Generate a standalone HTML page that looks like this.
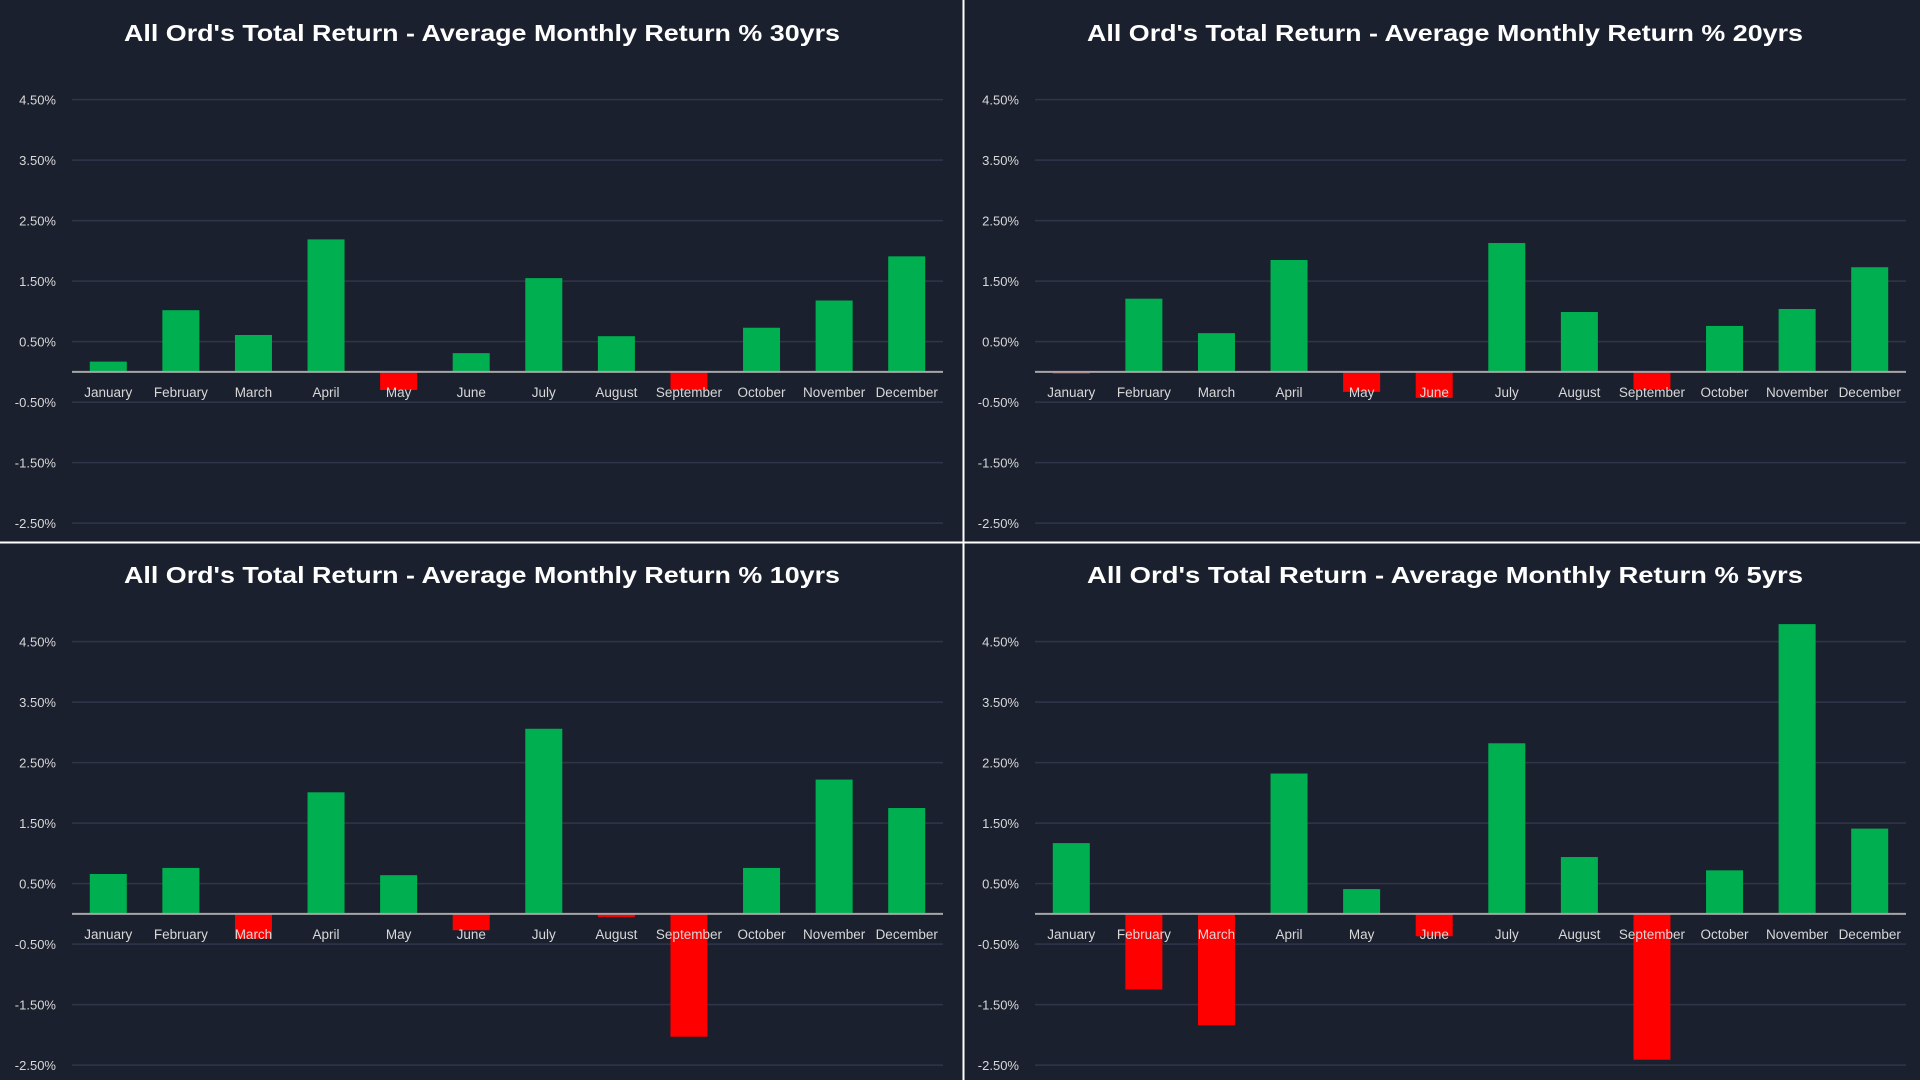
<!DOCTYPE html>
<html><head><meta charset="utf-8"><style>
html,body{margin:0;padding:0;background:#1b202e;}
svg{display:block;font-family:"Liberation Sans",sans-serif;}
</style></head><body>
<svg id="c" width="1920" height="1080" viewBox="0 0 1920 1080"></svg>
<script>
const months = ["January","February","March","April","May","June","July","August","September","October","November","December"];
const tickValues = [4.5,3.5,2.5,1.5,0.5,-0.5,-1.5,-2.5];
const tickLabels = ["4.50%","3.50%","2.50%","1.50%","0.50%","-0.50%","-1.50%","-2.50%"];
const periods = ["30yrs","20yrs","10yrs","5yrs"];
const values30 = [0.17,1.02,0.61,2.19,-0.30,0.31,1.55,0.59,-0.30,0.73,1.18,1.91];
const values20 = [-0.03,1.21,0.64,1.85,-0.33,-0.43,2.13,0.99,-0.29,0.76,1.04,1.73];
const values10 = [0.66,0.76,-0.41,2.01,0.64,-0.27,3.06,-0.05,-2.03,0.76,2.22,1.75];
const values5 = [1.17,-1.25,-1.84,2.32,0.41,-0.37,2.82,0.94,-2.41,0.72,4.79,1.41];
const seriesList = [values30, values20, values10, values5];

const NS = "http://www.w3.org/2000/svg";
const svg = document.getElementById('c');
function mk(tag, attrs, parent){
  const e = document.createElementNS(NS, tag);
  for (const k in attrs) e.setAttribute(k, attrs[k]);
  parent.appendChild(e);
  return e;
}
const offsets = [[0,0],[963,0],[0,542],[963,542]];
seriesList.forEach((vals, p) => {
  const [ox, oy] = offsets[p];
  const g = mk('g', {transform:`translate(${ox},${oy})`}, svg);
  
  
  const x0 = 72, x1 = 943;
  const zeroY = 371.9, unit = 60.5;
  const yScale = v => zeroY - v * unit;
  const band = (x1 - x0) / months.length;
  const xScale = i => x0 + band * (i + 0.5);
  const t = mk('text', {x:482, y:41, 'text-anchor':'middle', fill:'#ffffff', 'font-size':23, 'font-weight':'bold', textLength:716, lengthAdjust:'spacingAndGlyphs'}, g);
  t.textContent = "All Ord's Total Return - Average Monthly Return % " + periods[p];
  
  
  tickValues.forEach((v, i) => {
    const y = yScale(v);
    const l = mk('line', {x1:x0, x2:x1, y1:y, y2:y, stroke:'#30364a', 'stroke-width':1.5}, g);
    
    
    const tl = mk('text', {x:56, y:y+5, 'text-anchor':'end', fill:'#d8d8d8', 'font-size':13}, g);
    tl.textContent = tickLabels[i];
    
    
  });
  const bw = 37;
  vals.forEach((v, i) => {
    const yv = yScale(v);
    const r = mk('rect', {x:xScale(i)-bw/2, y:Math.min(yv, zeroY), width:bw, height:Math.max(Math.abs(yv-zeroY),1), fill: v>=0 ? '#00b050' : '#ff0000'}, g);
    
    
  });
  const ax = mk('line', {x1:x0, x2:x1, y1:zeroY, y2:zeroY, stroke:'#a6a6a6', 'stroke-width':2}, g);
  
  
  months.forEach((m, i) => {
    const ml = mk('text', {x:xScale(i), y:397, 'text-anchor':'middle', fill:'#d8d8d8', 'font-size':13.5}, g);
    ml.textContent = m;
    
    
  });
});
const v = mk('line', {x1:963.5, x2:963.5, y1:0, y2:1080, stroke:'#ffffff', 'stroke-width':2}, svg);


const h = mk('line', {x1:0, x2:1920, y1:542.5, y2:542.5, stroke:'#ffffff', 'stroke-width':2}, svg);


</script>
</body></html>
